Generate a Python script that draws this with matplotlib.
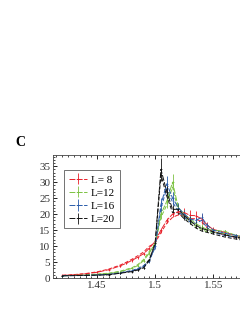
import matplotlib.pyplot as plt

plt.rcParams['font.family'] = ['Liberation Serif', 'DejaVu Serif']

sizes = [8, 12, 16, 20]
colors = ['#e8202a', '#7cc242', '#2a5caa', '#111111']

x8 = [1.42, 1.43, 1.44, 1.45, 1.46, 1.47, 1.475, 1.48, 1.485, 1.49, 1.495, 1.5,
      1.505, 1.51, 1.515, 1.52, 1.525, 1.53, 1.535, 1.54, 1.545, 1.55, 1.56, 1.57, 1.58]
y8 = [0.8, 1.0, 1.3, 1.8, 2.6, 3.8, 4.6, 5.5, 6.5, 7.6, 9.3, 11.5,
      15.0, 18.0, 20.0, 20.8, 20.5, 19.6, 19.5, 18.5, 16.5, 15.2, 14.3, 13.2, 12.6]
e8 = [0.1, 0.1, 0.1, 0.2, 0.2, 0.3, 0.3, 0.4, 0.4, 0.5, 0.5, 0.6,
      0.8, 0.9, 1.0, 1.2, 1.4, 1.6, 1.6, 1.5, 1.0, 0.8, 0.6, 0.5, 0.5]

x12 = [1.42, 1.44, 1.46, 1.47, 1.48, 1.485, 1.49, 1.495, 1.5, 1.505, 1.51, 1.515,
       1.52, 1.525, 1.53, 1.535, 1.54, 1.545, 1.55, 1.56, 1.57, 1.58]
y12 = [0.7, 0.9, 1.4, 2.0, 3.0, 3.9, 5.4, 7.8, 11.0, 20.0, 24.0, 30.0,
       22.0, 20.0, 18.5, 17.0, 16.0, 15.2, 15.0, 14.6, 13.3, 12.6]
e12 = [0.1, 0.1, 0.1, 0.2, 0.2, 0.3, 0.4, 0.5, 0.7, 1.5, 2.0, 2.5,
       1.5, 1.2, 1.2, 1.0, 0.8, 0.7, 0.6, 0.5, 0.5, 0.5]

x16 = [1.42, 1.44, 1.46, 1.47, 1.48, 1.485, 1.49, 1.495, 1.5, 1.505, 1.51, 1.515,
       1.52, 1.525, 1.53, 1.535, 1.54, 1.545, 1.55, 1.56, 1.57, 1.58]
y16 = [0.7, 0.8, 1.1, 1.6, 2.2, 2.8, 3.6, 5.2, 10.0, 23.0, 29.5, 25.0,
       22.0, 20.0, 18.5, 18.0, 19.0, 16.5, 15.0, 14.0, 13.3, 12.6]
e16 = [0.1, 0.1, 0.1, 0.2, 0.2, 0.3, 0.3, 0.4, 0.8, 2.0, 2.5, 2.0,
       1.5, 1.2, 1.0, 1.0, 1.2, 0.8, 0.6, 0.5, 0.5, 0.5]

x20 = [1.42, 1.44, 1.46, 1.47, 1.48, 1.485, 1.49, 1.495, 1.5, 1.505, 1.51, 1.515,
       1.52, 1.525, 1.53, 1.535, 1.54, 1.545, 1.55, 1.56, 1.57, 1.58]
y20 = [0.7, 0.8, 1.0, 1.5, 2.0, 2.5, 3.2, 5.5, 11.0, 34.0, 27.0, 21.5,
       21.5, 19.5, 18.0, 16.5, 15.5, 15.0, 14.5, 13.5, 12.8, 12.2]
e20 = [0.1, 0.1, 0.1, 0.2, 0.2, 0.3, 0.3, 0.5, 1.0, 3.5, 2.5, 1.5,
       1.5, 1.2, 1.0, 1.0, 0.8, 0.7, 0.6, 0.5, 0.5, 0.5]

xs = [x8, x12, x16, x20]
ys = [y8, y12, y16, y20]
errs = [e8, e12, e16, e20]
labels = ['L= 8', 'L=12', 'L=16', 'L=20']

fig = plt.figure(figsize=(2.4, 3.1), dpi=100)
ax = fig.add_axes([53 / 240, 32 / 310, 195 / 240, 123 / 310])

for x, y, e, c, lab in zip(xs, ys, errs, colors, labels):
    # second (dashed) sweep sitting just beside the main one
    y_alt = [v * 1.07 if xx < 1.5 else v * 0.95 for xx, v in zip(x, y)]
    ax.plot(x, y_alt, color=c, lw=0.7, ls=(0, (4, 2)))
    ax.errorbar(x, y, yerr=e, color=c, lw=0.7, ls=(0, (6, 1.5)), marker='+', ms=2,
                mew=0.5, elinewidth=0.6, capsize=0, label=lab)

ax.set_xlim(1.412, 1.58)
ax.set_ylim(0, 38.5)
ax.set_xticks([1.45, 1.5, 1.55])
ax.set_xticklabels(['1.45', '1.5', '1.55'])
ax.set_yticks(range(0, 40, 5))
ax.set_xticks([1.415 + 0.005 * i for i in range(34)], minor=True)
ax.set_yticks(range(0, 39, 1), minor=True)
ax.tick_params(which='both', direction='in', top=True, right=True, labelsize=8, pad=2,
               labelcolor='#333333')
ax.tick_params(which='major', length=3, width=0.6)
ax.tick_params(which='minor', length=1.5, width=0.5)
for s in ax.spines.values():
    s.set_linewidth(0.6)
    s.set_color('#444444')

leg = ax.legend(loc='upper left', bbox_to_anchor=(0.03, 0.92), fontsize=8,
                frameon=True, fancybox=False, handlelength=1.6, handletextpad=0.4,
                borderpad=0.4, labelspacing=0.3)
leg.get_frame().set_edgecolor('#333333')
leg.get_frame().set_linewidth(0.6)

fig.text(15 / 240, 1 - 143 / 310, 'C', fontsize=10, fontweight='bold', va='center', ha='left')

fig.savefig('out.png', dpi=100)
